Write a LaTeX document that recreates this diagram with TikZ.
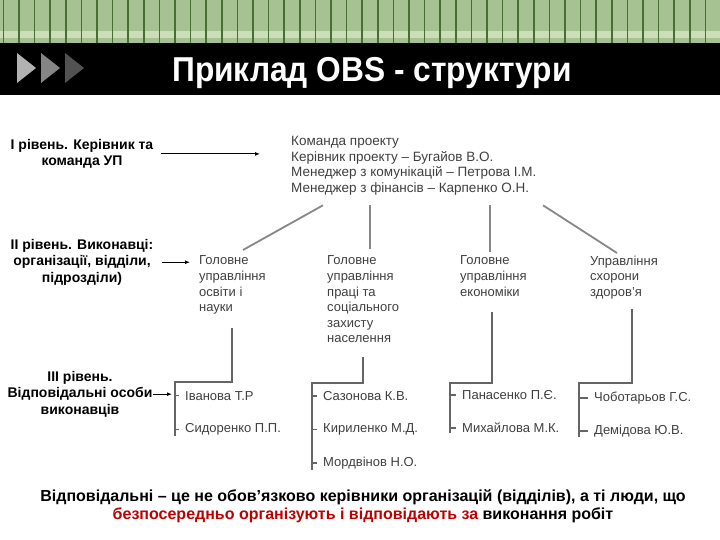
\documentclass[tikz,border=0pt]{standalone}
\usepackage{fontspec}
\setmainfont{Liberation Sans}
\usetikzlibrary{arrows.meta}
\definecolor{zelenyi}{RGB}{166,194,146}
\definecolor{smuha}{RGB}{72,110,52}
\definecolor{svitlyi}{RGB}{204,222,184}
\definecolor{tekst}{RGB}{64,64,64}
\definecolor{liniya}{RGB}{135,135,135}
\definecolor{chervonyi}{RGB}{192,0,0}

\begin{document}
\begin{tikzpicture}[
    x=1pt, y=-1pt,
    riven/.style={
        font=\fontsize{14}{16.5}\selectfont\bfseries,
        align=center,
        inner sep=0pt,
        anchor=north
    },
    komanda/.style={
        font=\fontsize{13.5}{15.5}\selectfont,
        text=tekst,
        align=left,
        inner sep=0pt,
        anchor=north west
    },
    pidrozdil/.style={
        font=\fontsize{13}{15.6}\selectfont,
        text=tekst,
        align=left,
        inner sep=0pt,
        anchor=north west
    },
    osoba/.style={
        font=\fontsize{13}{15.6}\selectfont,
        text=tekst,
        inner sep=0pt,
        anchor=base west
    },
    zviazok/.style={
        draw=liniya,
        line width=1.8pt
    },
    duzhka/.style={
        draw=liniya!75!black,
        line width=1.6pt
    },
    strilka/.style={
        -{Latex[length=5pt, width=4pt]},
        line width=1pt
    }
]

    \useasboundingbox (0,0) rectangle (720,540);
    \fill[white] (0,0) rectangle (720,540);

    % shapka
    \fill[zelenyi] (0,0) rectangle (720,43);
    \fill[svitlyi] (0,31) rectangle (720,38);
    \foreach \x in {3.3,18.9,...,720}
        \draw[smuha, line width=1.6pt] (\x,0) -- (\x,43);
    \fill[black] (0,43) rectangle (720,95);
    \foreach \x/\kolir in {17/black!30, 41/black!48, 65/black!68}
        \fill[\kolir] (\x,53) -- (\x+19,68) -- (\x,83) -- cycle;
    \node[font=\fontsize{31.7}{32}\selectfont\bfseries, text=white, anchor=base] (nazva) at (372,82)
        {\scalebox{1}[1.09]{Приклад OBS - структури}};

    % rivni
    \node[riven] (riven1) at (82,139) {І рівень. Керівник та\\команда УП};
    \node[riven] (riven2) at (82,239) {ІІ рівень. Виконавці:\\організації, відділи,\\підрозділи)};
    \node[riven] (riven3) at (80,371) {ІІІ рівень.\\Відповідальні особи\\виконавців};

    % komanda proektu
    \node[komanda] (komanda) at (291,136.3) {Команда проекту\\Керівник проекту – Бугайов В.О.\\Менеджер з комунікацій – Петрова І.М.\\Менеджер з фінансів – Карпенко О.Н.};

    % vykonavtsi
    \node[pidrozdil] (osvita) at (199,255.7) {Головне\\управління\\освіти і\\науки};
    \node[pidrozdil] (pratsia) at (327,255.7) {Головне\\управління\\праці та\\соціального\\захисту\\населення};
    \node[pidrozdil] (ekonomika) at (460,255.7) {Головне\\управління\\економіки};
    \node[pidrozdil] (zdorovia) at (590,255.7) {Управління\\схорони\\здоров’я};

    % vidpovidalni osoby
    \node[osoba] (ivanova) at (185,400) {Іванова Т.Р};
    \node[osoba] (sydorenko) at (185,432.6) {Сидоренко П.П.};
    \node[osoba] (sazonova) at (323,400.6) {Сазонова К.В.};
    \node[osoba] (kyrylenko) at (323,432.6) {Кириленко М.Д.};
    \node[osoba] (mordvinov) at (323,466.6) {Мордвінов Н.О.};
    \node[osoba] (panasenko) at (462,399.6) {Панасенко П.Є.};
    \node[osoba] (mykhailova) at (462,432.6) {Михайлова М.К.};
    \node[osoba] (chobotariov) at (594,401.6) {Чоботарьов Г.С.};
    \node[osoba] (demidova) at (594,434.6) {Демідова Ю.В.};

    \coordinate (kut1) at (175,382);
    \coordinate (kut2) at (312,383);
    \coordinate (kut3) at (450,383);
    \coordinate (kut4) at (579,383);

    % zviazky
    \draw[zviazok] ([shift={(32pt,-10pt)}]komanda.south west) -- ([shift={(44pt,5.7pt)}]osvita.north west);
    \draw[zviazok] ([shift={(79pt,-10pt)}]komanda.south west) -- ([shift={(43pt,6.7pt)}]pratsia.north west);
    \draw[zviazok] ([shift={(199pt,-10pt)}]komanda.south west) -- ([shift={(30pt,3.7pt)}]ekonomika.north west);
    \draw[zviazok] ([shift={(252pt,-10pt)}]komanda.south west) -- ([shift={(27pt,2.7pt)}]zdorovia.north west);

    \draw[duzhka] ([shift={(33pt,-13pt)}]osvita.south west) |- (kut1) -- (kut1 |- sydorenko.south);
    \draw[duzhka] ([shift={(36pt,-14pt)}]pratsia.south west) |- (kut2) -- (kut2 |- mordvinov.south);
    \draw[duzhka] ([shift={(32pt,-16pt)}]ekonomika.south west) |- (kut3) -- (kut3 |- mykhailova.south);
    \draw[duzhka] ([shift={(42pt,-10pt)}]zdorovia.south west) |- (kut4) -- (kut4 |- demidova.south);
    \foreach \imia/\kut in {ivanova/kut1, sydorenko/kut1, sazonova/kut2, kyrylenko/kut2, mordvinov/kut2,
        panasenko/kut3, mykhailova/kut3, chobotariov/kut4, demidova/kut4}
        \draw[duzhka, shorten >=6pt] (\kut |- \imia.west) -- (\imia.west);

    % strilky
    \draw[strilka, shorten <=8pt, shorten >=31pt] (riven1.east) -- (komanda.west |- riven1.east);
    \draw[strilka, shorten <=9pt, shorten >=9pt] (riven2.east) -- (osvita.west |- riven2.east);
    \draw[strilka, shorten >=3pt] (riven3.east) -- (kut1 |- riven3.east);

    % prymitka
    \node[font=\fontsize{16}{18}\selectfont\bfseries, align=center, anchor=north] (prymitka) at (363,486.2)
        {Відповідальні – це не обов’язково керівники організацій (відділів), а ті люди, що\\
         \textcolor{chervonyi}{безпосередньо організують і відповідають за} виконання робіт};

\end{tikzpicture}
\end{document}
